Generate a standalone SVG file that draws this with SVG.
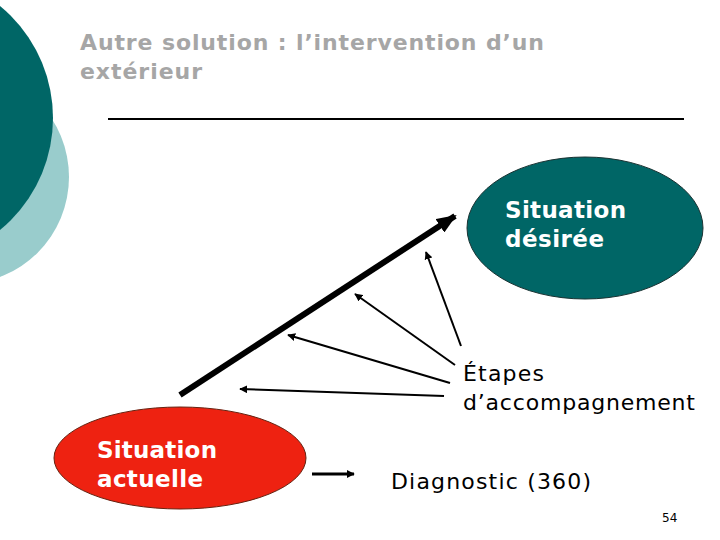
<svg xmlns="http://www.w3.org/2000/svg" width="720" height="540" viewBox="0 0 720 540">
<defs>
<style>
.title{font-family:"DejaVu Sans",Verdana,sans-serif;font-weight:bold;font-size:22px;fill:#a6a6a6}
.node{font-family:"DejaVu Sans",Verdana,sans-serif;font-weight:bold;font-size:23px;fill:#ffffff}
.lbl{font-family:"DejaVu Sans",Verdana,sans-serif;font-size:22px;fill:#000000}
.thin{stroke:#000;stroke-width:2;fill:none}
</style>
<marker id="ahs" viewBox="0 0 10 10" refX="9" refY="5" markerWidth="8" markerHeight="8" orient="auto" markerUnits="userSpaceOnUse">
<path d="M0,0 L10,5 L0,10 z" fill="#000"/>
</marker>
<marker id="ahb" viewBox="0 0 10 10" refX="9" refY="5" markerWidth="20" markerHeight="16" orient="auto" markerUnits="userSpaceOnUse" preserveAspectRatio="none">
<path d="M0,0 L10,5 L0,10 z" fill="#000"/>
</marker>
</defs>
<rect width="720" height="540" fill="#ffffff"/>
<g id="decor">
<circle cx="-38" cy="177" r="107" fill="#99cccc"/>
<circle cx="-92" cy="118" r="145" fill="#006666"/>
</g>
<g id="title">
<text class="title" x="80" y="50" textLength="464" lengthAdjust="spacing">Autre solution : l’intervention d’un</text>
<text class="title" x="80" y="79" textLength="122" lengthAdjust="spacing">extérieur</text>
<line x1="108" y1="119" x2="684" y2="119" stroke="#000" stroke-width="2"/>
</g>
<g id="connectors">
<line x1="180" y1="395" x2="455" y2="216" stroke="#000" stroke-width="6" marker-end="url(#ahb)"/>
<line class="thin" x1="461" y1="346" x2="426" y2="252" marker-end="url(#ahs)"/>
<line class="thin" x1="455" y1="365" x2="355" y2="294" marker-end="url(#ahs)"/>
<line class="thin" x1="450" y1="383" x2="288" y2="335" marker-end="url(#ahs)"/>
<line class="thin" x1="444" y1="396" x2="240" y2="389" marker-end="url(#ahs)"/>
<line x1="312" y1="474" x2="354" y2="474" stroke="#000" stroke-width="3" marker-end="url(#ahs)"/>
</g>
<g id="desiree">
<ellipse cx="585" cy="228" rx="118" ry="71" fill="#006666" stroke="#1a3333" stroke-width="1"/>
<text class="node" x="505" y="218" textLength="121" lengthAdjust="spacing">Situation</text>
<text class="node" x="505" y="247" textLength="99" lengthAdjust="spacing">désirée</text>
</g>
<g id="actuelle">
<ellipse cx="180" cy="458" rx="126" ry="51" fill="#ee2211" stroke="#662211" stroke-width="1"/>
<text class="node" x="97" y="458" textLength="120" lengthAdjust="spacing">Situation</text>
<text class="node" x="97" y="487" textLength="106" lengthAdjust="spacing">actuelle</text>
</g>
<g id="etapes">
<text class="lbl" x="463" y="381" textLength="81" lengthAdjust="spacing">Étapes</text>
<text class="lbl" x="463" y="410" textLength="232" lengthAdjust="spacing">d’accompagnement</text>
</g>
<g id="diagnostic">
<text class="lbl" x="391" y="489" textLength="200" lengthAdjust="spacing">Diagnostic (360)</text>
</g>
<text x="662" y="522" font-family="DejaVu Sans,Verdana,sans-serif" font-size="12" fill="#000">54</text>
</svg>
